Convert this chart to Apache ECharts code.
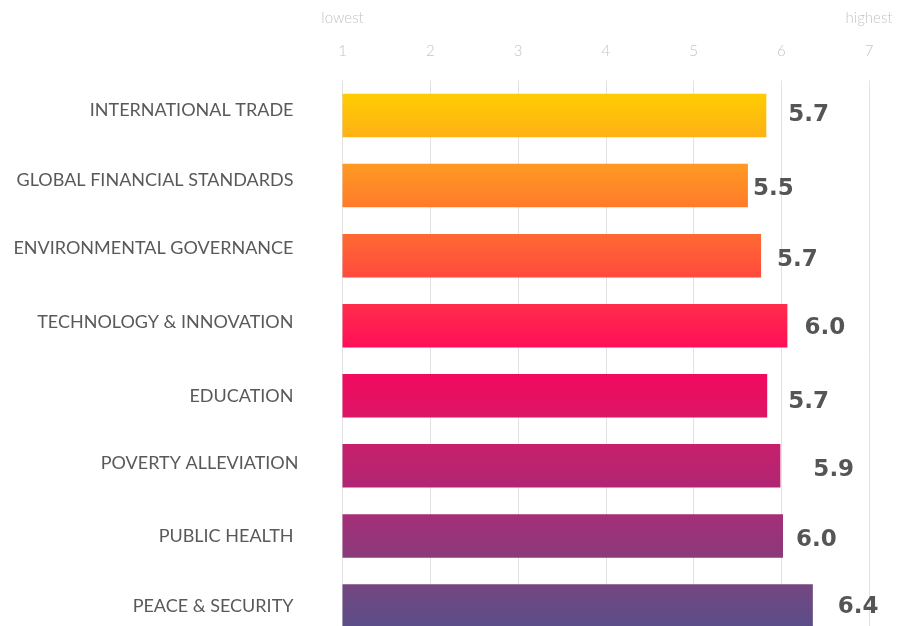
<!DOCTYPE html>
<html>
<head>
<meta charset="utf-8">
<title>Ratings</title>
<script src="https://cdn.jsdelivr.net/npm/echarts@6/dist/echarts.min.js"></script>
<style>
    html, body { margin: 0; padding: 0; background: #fff; }
    #chart { width: 900px; height: 626px; }
</style>
</head>
<body>
<div id="chart"></div>
<script>
// categories, top to bottom
var categories = ['INTERNATIONAL TRADE', 'GLOBAL FINANCIAL STANDARDS', 'ENVIRONMENTAL GOVERNANCE',
    'TECHNOLOGY & INNOVATION', 'EDUCATION', 'POVERTY ALLEVIATION', 'PUBLIC HEALTH', 'PEACE & SECURITY'];
// bar lengths
var barValues = [5.83, 5.62, 5.77, 6.07, 5.84, 5.99, 6.02, 6.36];
// the printed scores
var scoreLabels = ['5.7', '5.5', '5.7', '6.0', '5.7', '5.9', '6.0', '6.4'];
var scaleTicks = [1, 2, 3, 4, 5, 6, 7];

// bar gradients (top, bottom)
var barColors = [
    ['#FFCC00', '#FDB116'],
    ['#FE9A22', '#FF7A2A'],
    ['#FF6A32', '#FF4A3F'],
    ['#FF2D4C', '#FF0F58'],
    ['#F2095E', '#DC1566'],
    ['#C71F6C', '#B02673'],
    ['#A52E77', '#8A3A7B'],
    ['#754680', '#5A4E88']
];
// small nudges of the score labels, as in the original
var scoreGap = [22, 5, 16, 17, 21, 33, 13, 25];
var scoreDy = [-1, 3, 4, 2, 6, 4, 4, 1];
// category label nudges
var catDy = [-5, -5, -7, -4, 0, -3, 0, 0];
var catDx = [0, 0, 0, 0, 0, 5, 0, 0];

var myChart = echarts.init(document.getElementById('chart'));

// one rich style per category label so each can be nudged
var catRich = {};
categories.forEach(function (c, i) {
    var pad = [0, 5 - catDx[i], 0, 0];
    if (catDy[i] < 0) pad[2] = -2 * catDy[i];
    if (catDy[i] > 0) pad[0] = 2 * catDy[i];
    catRich['c' + i] = { color: '#595959', fontFamily: 'Lato', fontSize: 18, padding: pad };
});

var barData = barValues.map(function (v, i) {
    return {
        value: v,
        label: { offset: [scoreGap[i], scoreDy[i]] },
        itemStyle: {
            color: {
                type: 'linear', x: 0, y: 0, x2: 0, y2: 1,
                colorStops: [
                    { offset: 0, color: barColors[i][0] },
                    { offset: 1, color: barColors[i][1] }
                ]
            }
        }
    };
});

var option = {
    animation: false,
    grid: { left: 342.5, right: 31, top: 80.5, height: 560.5, containLabel: false, outerBoundsMode: 'none' },
    xAxis: {
        type: 'value',
        position: 'top',
        min: 1,
        max: 7,
        interval: 1,
        axisLine: { show: false },
        axisTick: { show: false },
        splitLine: { show: true, lineStyle: { color: '#e2e2e2', width: 1 } },
        axisLabel: {
            margin: 20,
            color: '#c4c4c4',
            fontFamily: 'Lato',
            fontWeight: 300,
            fontSize: 15,
            formatter: function (v) {
                if (scaleTicks.indexOf(v) < 0) return '';
                if (v === 1) return '{end|lowest}\n{n|1}';
                if (v === 7) return '{end|highest}\n{n|7}';
                return '{n|' + v + '}';
            },
            rich: {
                end: { color: '#c4c4c4', fontFamily: 'Lato', fontWeight: 300, fontSize: 15, lineHeight: 48 },
                n: { color: '#c4c4c4', fontFamily: 'Lato', fontWeight: 300, fontSize: 15, lineHeight: 18 }
            }
        }
    },
    yAxis: {
        type: 'category',
        inverse: true,
        data: categories,
        axisLine: { show: false },
        axisTick: { show: false },
        axisLabel: {
            margin: 44,
            color: '#595959',
            fontFamily: 'Lato',
            fontSize: 18,
            formatter: function (v, i) {
                return '{c' + i + '|' + v + '}';
            },
            rich: catRich
        }
    },
    series: [{
        type: 'bar',
        data: barData,
        barWidth: 43.5,
        label: {
            show: true,
            position: 'right',
            distance: 0,
            color: '#555555',
            fontFamily: 'DejaVu Sans',
            fontWeight: 'bold',
            fontSize: 23,
            formatter: function (p) {
                return scoreLabels[p.dataIndex];
            }
        }
    }]
};
myChart.setOption(option);
</script>
</body>
</html>
